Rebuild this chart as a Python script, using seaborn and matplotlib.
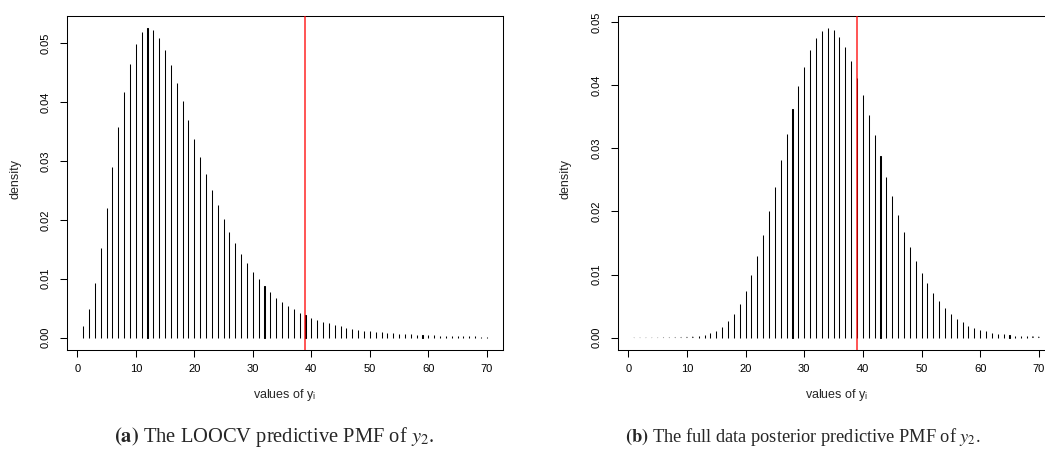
import numpy as np
import pandas as pd
import matplotlib
matplotlib.use("Agg")
import matplotlib.pyplot as plt
import seaborn as sns

# ---------------- data ----------------
y_values = np.arange(1, 71)

loocv_pmf = [
    0.0019, 0.0048, 0.0093, 0.0152, 0.0220, 0.0290, 0.0358, 0.0417, 0.0464, 0.0498,
    0.0518, 0.0525, 0.0522, 0.0508, 0.0488, 0.0462, 0.0433, 0.0402, 0.0370, 0.0338,
    0.0307, 0.0278, 0.0250, 0.0225, 0.0201, 0.0179, 0.0160, 0.0142, 0.0126, 0.0112,
    0.0099, 0.0088, 0.0077, 0.0068, 0.0061, 0.0054, 0.0048, 0.0042, 0.0038, 0.0034,
    0.0030, 0.0027, 0.0024, 0.0021, 0.0019, 0.0017, 0.0015, 0.0013, 0.0012, 0.0011,
    0.0010, 0.0009, 0.0008, 0.00075, 0.0007, 0.0006, 0.00055, 0.0005, 0.00045, 0.0004,
    0.00037, 0.00034, 0.0003, 0.00028, 0.00025, 0.00023, 0.00021, 0.0002, 0.00018, 0.00017,
]

full_pmf = [
    0.00001, 0.00001, 0.00001, 0.00001, 0.00001, 0.00002, 0.00002, 0.00003, 0.00004, 0.00006,
    0.0001, 0.0002, 0.0004, 0.0007, 0.0011, 0.0017, 0.0026, 0.0038, 0.0054, 0.0074,
    0.0099, 0.0129, 0.0162, 0.0200, 0.0239, 0.0281, 0.0322, 0.0362, 0.0398, 0.0429,
    0.0455, 0.0474, 0.0486, 0.0490, 0.0487, 0.0477, 0.0461, 0.0439, 0.0412, 0.0384,
    0.0353, 0.0321, 0.0288, 0.0255, 0.0224, 0.0194, 0.0167, 0.0143, 0.0122, 0.0102,
    0.0086, 0.0071, 0.0058, 0.0047, 0.0038, 0.0030, 0.0024, 0.0019, 0.0015, 0.0012,
    0.0010, 0.0008, 0.0006, 0.0005, 0.0004, 0.0003, 0.00025, 0.0002, 0.00015, 0.0001,
]

observed_y = 39
x_ticks = [0, 10, 20, 30, 40, 50, 60, 70]
y_ticks = [0.00, 0.01, 0.02, 0.03, 0.04, 0.05]
x_label = r"values of y$_{\mathregular{i}}$"
y_label = "density"
captions = [
    r"$\mathbf{(a)}$ The LOOCV predictive PMF of $y_2$.",
    r"$\mathbf{(b)}$ The full data posterior predictive PMF of $y_2$.",
]

# ---------------- style ----------------
sns.set_theme(style="ticks")
plt.rcParams["font.family"] = ["Liberation Sans", "DejaVu Sans"]
plt.rcParams["mathtext.fontset"] = "stix"
plt.rcParams["axes.linewidth"] = 0.75

W, H = 1045, 449
fig = plt.figure(figsize=(W / 100, H / 100), dpi=100)


def px_axes(x0, y0, x1, y1):
    return fig.add_axes([x0 / W, 1 - y1 / H, (x1 - x0) / W, (y1 - y0) / H])


panels = [
    dict(vals=loocv_pmf, box=(67, 16, 503, 350), ylim=(-0.0021, 0.0546),
         ylab_x=15, cap_x=274, cap_w=322),
    dict(vals=full_pmf, box=(618, 16, 1055, 350), ylim=(-0.00196, 0.05096),
         ylab_x=566, cap_x=803, cap_w=357),
]

renderer = fig.canvas.get_renderer()

for p, cap in zip(panels, captions):
    x0, y0, x1, y1 = p["box"]
    ax = px_axes(x0, y0, x1, y1)
    df = pd.DataFrame({"y": y_values, "pmf": p["vals"]})
    sns.barplot(data=df, x="y", y="pmf", native_scale=True, width=0.01,
                color="black", saturation=1, errorbar=None,
                edgecolor="black", linewidth=0.75, ax=ax)
    for patch in ax.patches:
        if patch.get_height() * (y1 - y0) / (p["ylim"][1] - p["ylim"][0]) < 1.0:
            patch.set_snap(False)
    ax.axvline(observed_y, color="red", lw=1.1, zorder=5, alpha=0.85)
    ax.set_xlim(-1.76, 72.76)
    ax.set_ylim(*p["ylim"])
    ax.set_xticks(x_ticks)
    ax.set_xticklabels([str(t) for t in x_ticks])
    ax.set_yticks(y_ticks)
    ax.set_yticklabels([f"{t:.2f}" for t in y_ticks])
    ax.tick_params(axis="both", direction="out", length=5, width=0.75,
                   labelsize=8, colors="black")
    ax.tick_params(axis="x", pad=5)
    ax.tick_params(axis="y", pad=7)
    for lab in ax.get_yticklabels():
        lab.set_rotation(90)
        lab.set_va("center")
        lab.set_ha("right")
    for s in ax.spines.values():
        s.set_visible(True)
        s.set_color("black")
        s.set_linewidth(0.75)
    ax.set_xlabel("")
    ax.set_ylabel("")
    fig.text((x0 + x1) / 2 / W, 1 - 395 / H, x_label, ha="center", va="center",
             fontsize=9)
    fig.text(p["ylab_x"] / W, 1 - 179 / H, y_label, ha="center", va="center",
             rotation=90, fontsize=9)
    t = fig.text(p["cap_x"] / W, 1 - 437 / H, cap, ha="center", va="center",
                 fontsize=14, family=["Liberation Serif", "DejaVu Serif"])
    w = t.get_window_extent(renderer).width
    t.set_fontsize(14 * p["cap_w"] / w)

fig.savefig("out.png", dpi=100)
